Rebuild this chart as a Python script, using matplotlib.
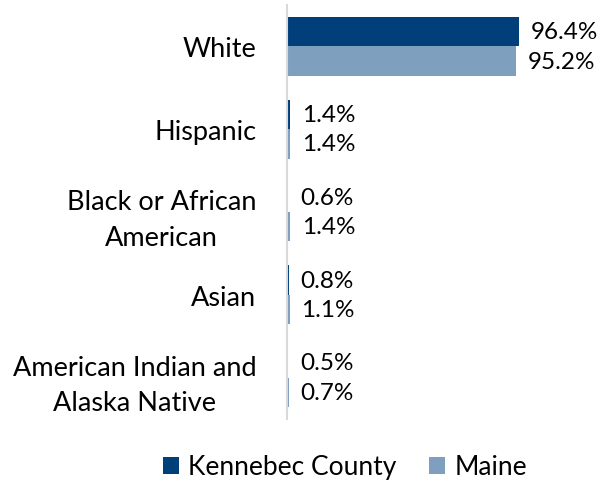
import matplotlib
matplotlib.use("Agg")
import matplotlib.pyplot as plt
import numpy as np

categories = ["White", "Hispanic", "Black or African\nAmerican", "Asian",
              "American Indian and\nAlaska Native"]
kennebec = [96.4, 1.4, 0.6, 0.8, 0.5]
maine = [95.2, 1.4, 1.4, 1.1, 0.7]
series_names = ["Kennebec County", "Maine"]
colors = ["#003F7A", "#7F9FBF"]

plt.rcParams['font.family'] = ['Lato', 'DejaVu Sans']
fig = plt.figure(figsize=(6.02, 4.85), dpi=100)
ax = fig.add_axes([287/602, 1 - 420/485, 240.7/602, 414/485])

y = np.arange(len(categories))
h = 0.355
b1 = ax.barh(y - h/2, kennebec, height=h, color=colors[0], label=series_names[0])
b2 = ax.barh(y + h/2, maine, height=h, color=colors[1], label=series_names[1])
ax.set_ylim(len(categories) - 0.5, -0.5)
ax.set_xlim(0, 100)

for bars, vals in ((b1, kennebec), (b2, maine)):
    for rect, v in zip(bars, vals):
        ax.annotate(f"{v:.1f}%", (rect.get_width(), rect.get_y() + rect.get_height()/2),
                    xytext=(8.5, 0), textcoords="offset points", va="center", ha="left",
                    fontsize=17.5, color="#000000")

ax.set_yticks(y)
ax.set_yticklabels(categories, fontsize=19.5, multialignment="center", linespacing=1.5)
ax.tick_params(axis="y", length=0, pad=22)
ax.set_xticks([])
for s in ("top", "right", "bottom"):
    ax.spines[s].set_visible(False)
ax.spines["left"].set_color("#D9D9D9")
ax.spines["left"].set_linewidth(1.5)

fig.legend(handles=[b1, b2], labels=series_names, loc="center", ncol=2,
           bbox_to_anchor=(345/602, 1 - 468/485), frameon=False, fontsize=19,
           handlelength=0.6, handleheight=0.6, handletextpad=0.35, columnspacing=1.25)

fig.savefig("out.png", dpi=100)
